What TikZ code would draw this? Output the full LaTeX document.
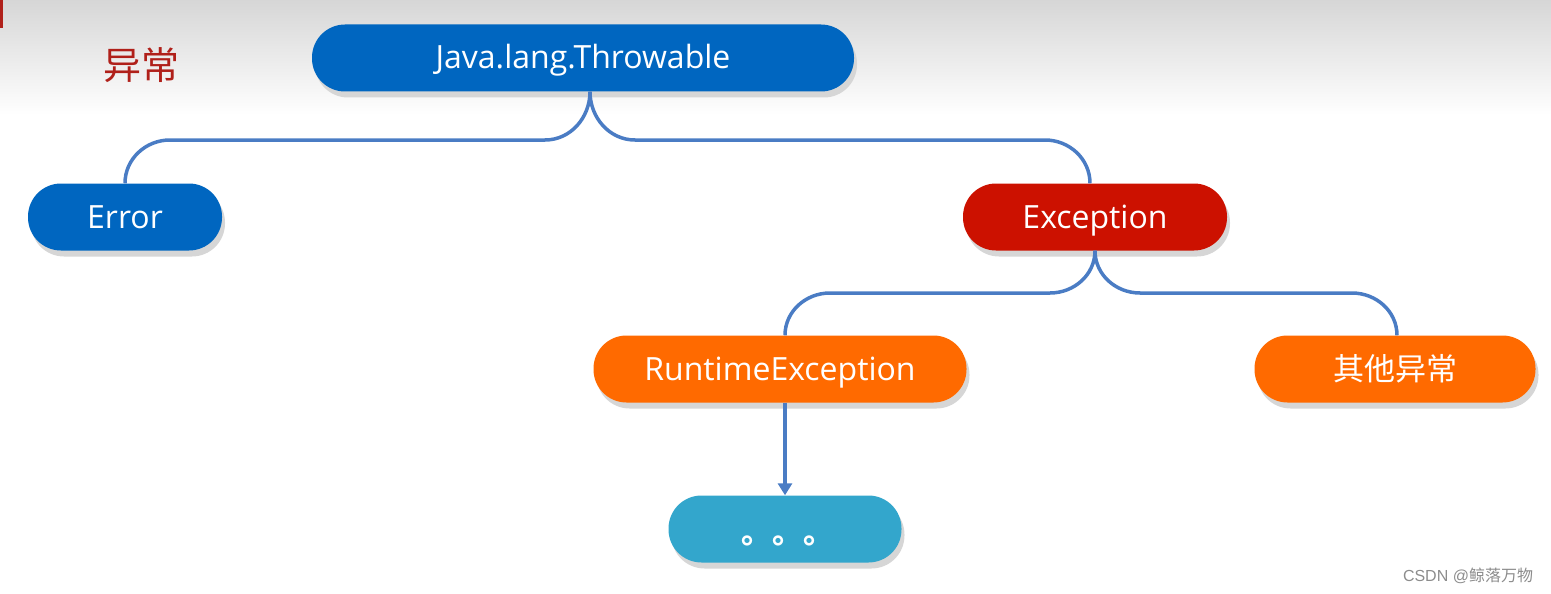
\documentclass[tikz,border=0pt]{standalone}
\usepackage{fontspec}
\setmainfont{Open Sans}
\newfontfamily\cjk{Noto Sans CJK SC}
\usetikzlibrary{shadows,arrows.meta}
\definecolor{tblue}{HTML}{0066C0}
\definecolor{tred}{HTML}{CC1100}
\definecolor{torange}{HTML}{FF6A00}
\definecolor{tcyan}{HTML}{33A6CC}
\definecolor{tline}{HTML}{4A7CC4}
\definecolor{ttitle}{HTML}{B0201A}
\definecolor{tshadow}{HTML}{D6D6D6}
\tikzset{
  pill/.style={rounded corners=33pt, minimum height=67pt, text=white,
    font=\fontsize{32}{36}\selectfont, inner sep=0pt, text height=22pt, text depth=0pt,
    drop shadow={shadow xshift=3pt, shadow yshift=-6pt, fill=tshadow, opacity=1}},
  conn/.style={draw=tline, line width=3.5pt},
}
\begin{document}
\begin{tikzpicture}[x=1pt,y=-1pt]
\useasboundingbox (0,0) rectangle (1551,594);
\shade[top color=black!16, bottom color=white] (0,0) rectangle (1551,115);
\fill[ttitle] (0,0) rectangle (3,28);
\node[text=ttitle, font=\cjk\fontsize{38}{42}\selectfont] (title) at (141,65) {异常};

\node[pill, fill=tblue, minimum width=542pt] (thr) at (583,58) {Java.lang.Throwable};
\node[pill, fill=tblue, minimum width=194pt] (err) at (125,217) {Error};
\node[pill, fill=tred, minimum width=264pt] (exc) at (1095,217) {Exception};
\node[pill, fill=torange, minimum width=373pt] (rte) at (780,369) {RuntimeException};
\node[pill, fill=torange, minimum width=281pt, font=\cjk\fontsize{31}{34}\selectfont] (oth) at (1395,369) {其他异常};
\node[pill, fill=tcyan, minimum width=233pt] (dots) at (785,529) {};
\node[anchor=base, text=white, font=\cjk\bfseries\fontsize{31}{34}\selectfont, inner sep=0pt] (dotstxt) at (788,543) {。。。};

\draw[conn] (thr.south -| 590,0) to[out=-90,in=0] (545,140) -- (170,140) to[out=180,in=90] (err.north);
\draw[conn] (thr.south -| 590,0) to[out=-90,in=180] (635,140) -- (1045,140) to[out=0,in=90] (exc.north -| 1090,0);
\draw[conn] (exc.south) to[out=-90,in=0] (1050,293) -- (830,293) to[out=180,in=90] (rte.north -| 785,0);
\draw[conn] (exc.south) to[out=-90,in=180] (1140,293) -- (1352,293) to[out=0,in=90] (oth.north -| 1397,0);
\draw[conn, -{Triangle[length=12pt,width=14pt]}] (rte.south -| 785,0) -- (dots.north -| 785,0);

\node[text=black!45, font=\fontsize{16}{19}\selectfont] (wm) at (1468,576) {\fontspec{Liberation Sans}CSDN @\cjk 鲸落万物};
\end{tikzpicture}
\end{document}
